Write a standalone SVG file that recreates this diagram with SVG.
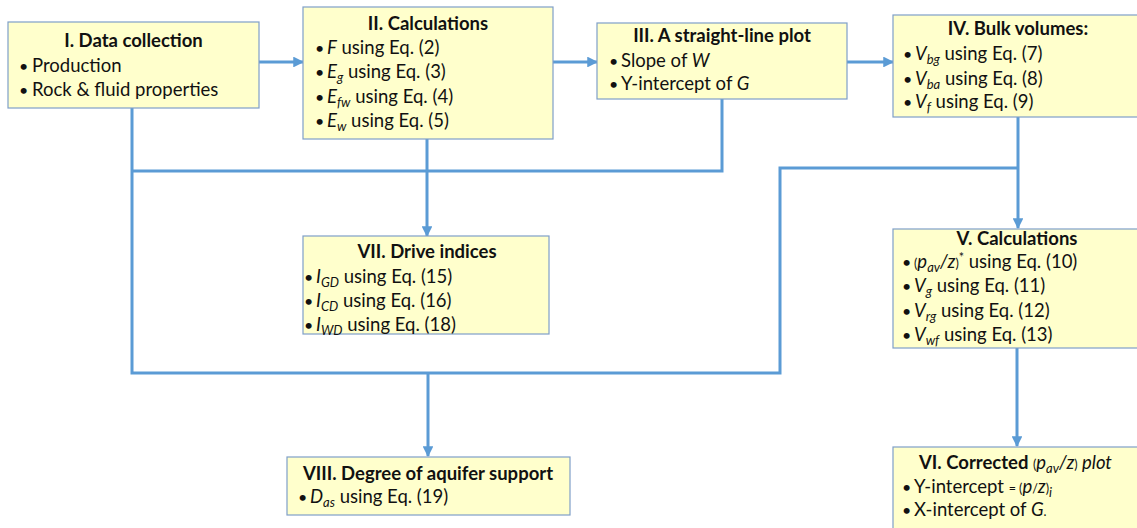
<svg xmlns="http://www.w3.org/2000/svg" width="1137" height="528" viewBox="0 0 1137 528">
  <defs>
    <marker id="arrow" viewBox="0 0 10 10" refX="9" refY="5" markerWidth="3.6" markerHeight="3.6" orient="auto" markerUnits="strokeWidth">
      <path d="M0,0 L10,5 L0,10 Z" fill="#5B9BD5"/>
    </marker>
    <style>
      .box { fill: #FFFFCC; stroke: #7F9FC8; stroke-width: 1.2; }
      .wire { fill: none; stroke: #5B9BD5; stroke-width: 3; }
      .arr { marker-end: url(#arrow); }
      text { font-family: Lato, "Liberation Sans", sans-serif; font-size: 18.5px; fill: #111; }
      .t { font-weight: bold; text-anchor: middle; }
      .tl { font-weight: bold; }
      .n { font-weight: normal; }
      .i { font-style: italic; }
      .s { font-size: 13px; }
      .sm { font-size: 12.5px; font-style: normal; }
      .bl { font-size: 16px; }
    </style>
  </defs>

  <!-- connectors -->
  <g id="connectors">
    <path class="wire arr" d="M259,62 H303"/>
    <path class="wire arr" d="M553,62 H597"/>
    <path class="wire arr" d="M847,62 H893"/>
    <path class="wire" d="M132,108 V373 H780 V168 H1018"/>
    <path class="wire arr" d="M1018,117 V228"/>
    <path class="wire" d="M722,99 V171 H132"/>
    <path class="wire arr" d="M427,139 V236"/>
    <path class="wire arr" d="M428,373 V456"/>
    <path class="wire arr" d="M1017,348 V446"/>
  </g>

  <!-- I. Data collection -->
  <g id="node-data-collection">
    <rect class="box" x="8" y="22" width="251" height="86"/>
    <text class="t" x="133.5" y="47">I. Data collection</text>
    <text x="19" y="72"><tspan class="bl">•</tspan><tspan x="32">Production</tspan></text>
    <text x="19" y="96"><tspan class="bl">•</tspan><tspan x="32">Rock &amp; fluid properties</tspan></text>
  </g>

  <!-- II. Calculations -->
  <g id="node-calculations-1">
    <rect class="box" x="303" y="7" width="250" height="132"/>
    <text class="t" x="428" y="30">II. Calculations</text>
    <text x="315" y="54"><tspan class="bl">•</tspan><tspan x="327" class="i">F</tspan><tspan> using Eq. (2)</tspan></text>
    <text x="315" y="78"><tspan class="bl">•</tspan><tspan x="327" class="i">E</tspan><tspan class="s i" dy="4">g</tspan><tspan dy="-4"> using Eq. (3)</tspan></text>
    <text x="315" y="103"><tspan class="bl">•</tspan><tspan x="327" class="i">E</tspan><tspan class="s i" dy="4">fw</tspan><tspan dy="-4">  using Eq. (4)</tspan></text>
    <text x="315" y="127"><tspan class="bl">•</tspan><tspan x="327" class="i">E</tspan><tspan class="s i" dy="4">w</tspan><tspan dy="-4"> using Eq. (5)</tspan></text>
  </g>

  <!-- III. A straight-line plot -->
  <g id="node-straight-line-plot">
    <rect class="box" x="597" y="23" width="250" height="76"/>
    <text class="t" x="722" y="42">III. A straight-line  plot</text>
    <text x="609" y="67"><tspan class="bl">•</tspan><tspan x="621">Slope of </tspan><tspan class="i">W</tspan></text>
    <text x="609" y="90"><tspan class="bl">•</tspan><tspan x="621">Y-intercept  of </tspan><tspan class="i">G</tspan></text>
  </g>

  <!-- IV. Bulk volumes -->
  <g id="node-bulk-volumes">
    <rect class="box" x="893" y="15" width="250" height="102"/>
    <text class="t" x="1018" y="35">IV. Bulk volumes:</text>
    <text x="903" y="60"><tspan class="bl">•</tspan><tspan x="915" class="i">V</tspan><tspan class="s i" dy="4">bg</tspan><tspan dy="-4"> using Eq. (7)</tspan></text>
    <text x="903" y="85"><tspan class="bl">•</tspan><tspan x="915" class="i">V</tspan><tspan class="s i" dy="4">ba</tspan><tspan dy="-4"> using Eq. (8)</tspan></text>
    <text x="903" y="108"><tspan class="bl">•</tspan><tspan x="915" class="i">V</tspan><tspan class="s i" dy="4">f</tspan><tspan dy="-4"> using Eq. (9)</tspan></text>
  </g>

  <!-- V. Calculations -->
  <g id="node-calculations-2">
    <rect class="box" x="893" y="229" width="250" height="119"/>
    <text class="t" x="1017" y="245">V. Calculations</text>
    <text x="902" y="268"><tspan class="bl">•</tspan><tspan x="914" class="sm">(</tspan><tspan class="i">p</tspan><tspan class="s i" dy="4">av</tspan><tspan class="i" dy="-4">/z</tspan><tspan class="sm">)</tspan><tspan class="sm" dy="-6">*</tspan><tspan dy="6"> using Eq. (10)</tspan></text>
    <text x="902" y="292"><tspan class="bl">•</tspan><tspan x="914" class="i">V</tspan><tspan class="s i" dy="4">g</tspan><tspan dy="-4"> using Eq. (11)</tspan></text>
    <text x="902" y="317"><tspan class="bl">•</tspan><tspan x="914" class="i">V</tspan><tspan class="s i" dy="4">rg</tspan><tspan dy="-4"> using Eq. (12)</tspan></text>
    <text x="902" y="341"><tspan class="bl">•</tspan><tspan x="914" class="i">V</tspan><tspan class="s i" dy="4">wf</tspan><tspan dy="-4"> using Eq. (13)</tspan></text>
  </g>

  <!-- VI. Corrected plot -->
  <g id="node-corrected-plot">
    <rect class="box" x="893" y="447" width="250" height="90"/>
    <text class="tl" x="919" y="469">VI. Corrected <tspan class="sm n">(</tspan><tspan class="i n">p</tspan><tspan class="s i n" dy="4">av</tspan><tspan class="i n" dy="-4">/z</tspan><tspan class="sm n">)</tspan><tspan class="i n"> plot</tspan></text>
    <text x="902" y="493"><tspan class="bl">•</tspan><tspan x="914">Y-intercept </tspan><tspan class="sm">= (</tspan><tspan class="i">p</tspan><tspan class="sm i">/</tspan><tspan class="i">z</tspan><tspan class="sm">)</tspan><tspan class="s i" dy="4">i</tspan></text>
    <text x="902" y="516"><tspan class="bl">•</tspan><tspan x="914">X-intercept of </tspan><tspan class="i">G</tspan><tspan class="sm">.</tspan></text>
  </g>

  <!-- VII. Drive indices -->
  <g id="node-drive-indices">
    <rect class="box" x="303" y="236" width="246" height="98"/>
    <text class="t" x="427" y="258">VII. Drive indices</text>
    <text x="304" y="283"><tspan class="bl">•</tspan><tspan x="316" class="i">I</tspan><tspan class="s i" dy="4">GD</tspan><tspan dy="-4"> using Eq. (15)</tspan></text>
    <text x="304" y="307"><tspan class="bl">•</tspan><tspan x="316" class="i">I</tspan><tspan class="s i" dy="4">CD</tspan><tspan dy="-4"> using Eq. (16)</tspan></text>
    <text x="304" y="331"><tspan class="bl">•</tspan><tspan x="316" class="i">I</tspan><tspan class="s i" dy="4">WD</tspan><tspan dy="-4"> using Eq. (18)</tspan></text>
  </g>

  <!-- VIII. Degree of aquifer support -->
  <g id="node-aquifer-support">
    <rect class="box" x="287" y="457" width="283" height="58"/>
    <text class="t" x="428" y="480">VIII. Degree of aquifer  support</text>
    <text x="298" y="503"><tspan class="bl">•</tspan><tspan x="310" class="i">D</tspan><tspan class="s i" dy="4">as</tspan><tspan dy="-4"> using Eq. (19)</tspan></text>
  </g>
</svg>
